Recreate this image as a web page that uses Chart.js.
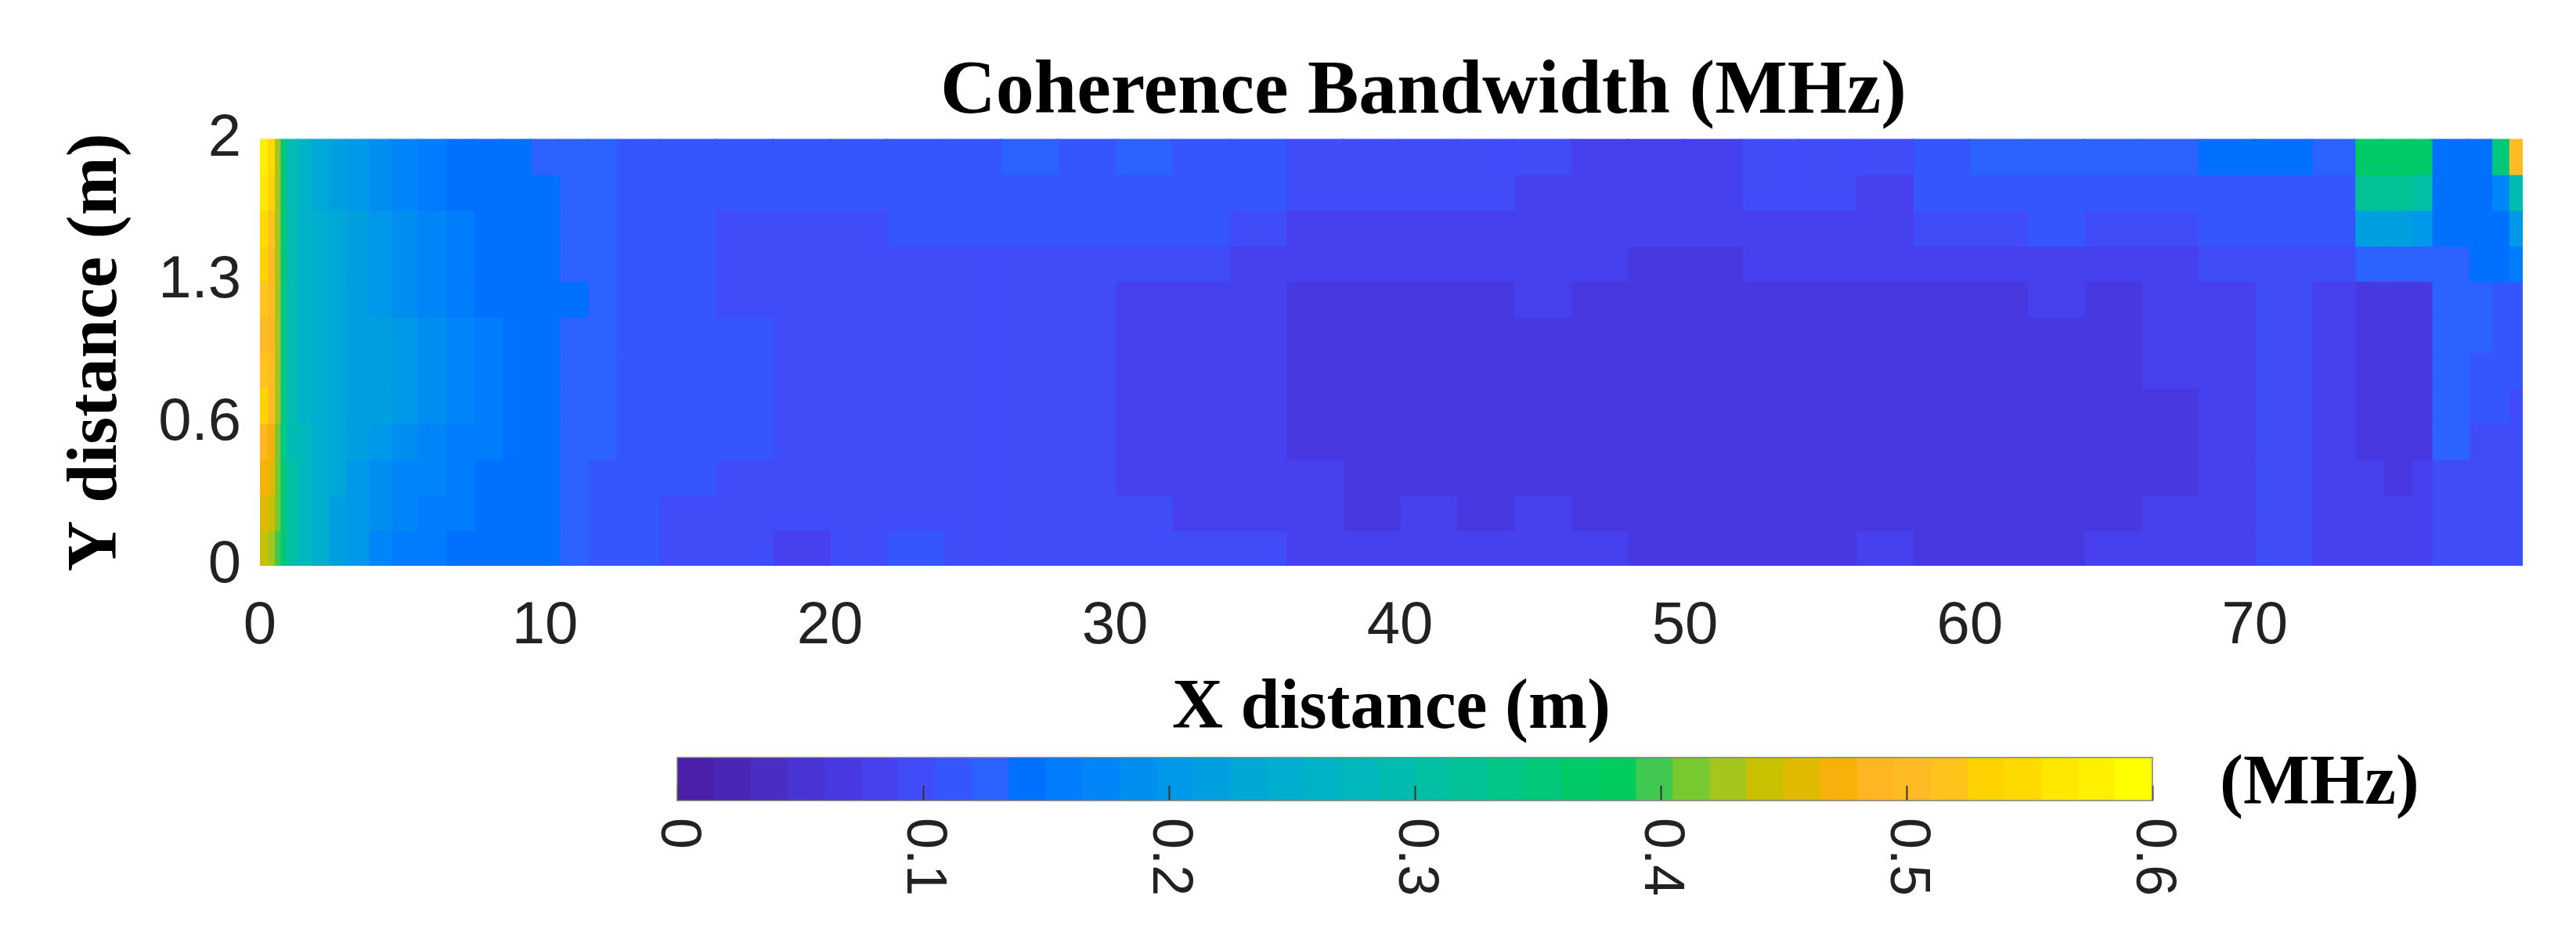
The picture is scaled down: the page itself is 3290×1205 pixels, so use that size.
<!DOCTYPE html>
<html>
<head>
<meta charset="utf-8">
<title>Coherence Bandwidth</title>
<script src="https://cdn.jsdelivr.net/npm/chart.js@4/dist/chart.umd.min.js"></script>
<style>
  html, body { margin: 0; padding: 0; background: #fff; }
  #wrap { position: relative; width: 3290px; height: 1205px; }
  canvas { position: absolute; left: 0; top: 0; }
</style>
</head>
<body>
<div id="wrap">
  <canvas id="field" width="3290" height="1205"></canvas>
  <canvas id="cbar" width="3290" height="1205"></canvas>
</div>
<script>
// Labels
const TITLE = 'Coherence Bandwidth (MHz)';
const X_LABEL = 'X distance (m)';
const Y_LABEL = 'Y distance (m)';
const CBAR_UNIT = '(MHz)';
const xTicks = [0, 10, 20, 30, 40, 50, 60, 70];
const yTickValues = [0, 0.6667, 1.3333, 2];
const yTickLabels = ['0', '0.6', '1.3', '2'];
const cbarTicks = [0, 0.1, 0.2, 0.3, 0.4, 0.5, 0.6];

// Column edges along X (m), finer where the field changes quickly
const xEdges = [0, 0.25, 0.5, 0.7, 0.9, 1.3, 1.8, 2.4, 3, 3.8, 4.6, 5.5, 6.5, 7.5, 8.5, 9.5, 10.5, 11.5, 12.5, 14,
  16, 18, 20, 22, 24, 26, 28, 30, 32, 34, 36, 38, 40, 42, 44, 46, 48, 50, 52, 54, 56, 58, 60, 62, 64, 66, 68, 70, 72,
  73.5, 74.5, 75.5, 76.2, 77.5, 78.3, 78.9, 79.4];

// Row centres along Y (m), bottom to top
const yRows = [0.083, 0.25, 0.417, 0.583, 0.75, 0.917, 1.083, 1.25, 1.417, 1.583, 1.75, 1.917];

// Coherence bandwidth (MHz), one list per row
const z0 = [.44,.43,.4,.35,.31,.28,.25,.22,.2,.17,.16,.16,.14,.14,.14,.14,.13,.11,.11,
  .1,.1,.08,.1,.11,.1,.1,.1,.1,.1,.1,.08,.08,.08,.08,.08,.08,.07,.07,.07,.07,.08,.07,.07,.07,.08,.08,.08,.1,.08,
  .08,.08,.08,.1,.1,.1,.1];
const z1 = [.46,.44,.41,.35,.31,.28,.25,.22,.2,.19,.17,.16,.16,.14,.14,.14,.13,.11,.11,
  .1,.1,.1,.1,.1,.1,.1,.1,.1,.08,.08,.08,.07,.08,.07,.08,.07,.07,.07,.07,.07,.07,.07,.07,.07,.07,.08,.08,.1,.08,
  .08,.08,.08,.1,.1,.1,.1];
const z2 = [.47,.46,.41,.35,.31,.28,.25,.23,.2,.19,.17,.17,.16,.14,.14,.14,.13,.11,.11,
  .11,.1,.1,.1,.1,.1,.1,.1,.08,.08,.08,.08,.07,.07,.07,.07,.07,.07,.07,.07,.07,.07,.07,.07,.07,.07,.07,.08,.1,.08,
  .08,.07,.08,.1,.1,.1,.1];
const z3 = [.49,.47,.41,.34,.29,.28,.25,.23,.22,.2,.19,.17,.16,.16,.14,.14,.13,.13,.11,
  .11,.11,.1,.1,.1,.1,.1,.1,.08,.08,.08,.07,.07,.07,.07,.07,.07,.07,.07,.07,.07,.07,.07,.07,.07,.07,.07,.08,.1,.08,
  .07,.07,.07,.13,.1,.1,.1];
const z4 = [.53,.5,.43,.34,.29,.26,.25,.23,.22,.22,.2,.19,.17,.16,.14,.14,.13,.13,.11,
  .11,.11,.1,.1,.1,.1,.1,.1,.08,.08,.08,.07,.07,.07,.07,.07,.07,.07,.07,.07,.07,.07,.07,.07,.07,.07,.07,.08,.1,.08,
  .07,.07,.07,.13,.11,.11,.1];
const z5 = [.52,.5,.43,.34,.29,.26,.25,.23,.22,.22,.2,.19,.17,.16,.14,.14,.13,.13,.11,
  .11,.11,.1,.1,.1,.1,.1,.1,.08,.08,.08,.07,.07,.07,.07,.07,.07,.07,.07,.07,.07,.07,.07,.07,.07,.07,.08,.08,.1,.08,
  .07,.07,.07,.13,.11,.11,.11];
const z6 = [.5,.49,.43,.34,.29,.26,.25,.23,.22,.22,.2,.19,.17,.16,.14,.14,.13,.13,.11,
  .11,.11,.1,.1,.1,.1,.1,.1,.08,.08,.08,.07,.07,.07,.07,.07,.07,.07,.07,.07,.07,.07,.07,.07,.07,.07,.08,.08,.1,.08,
  .07,.07,.07,.13,.13,.11,.11];
const z7 = [.52,.5,.43,.34,.29,.26,.25,.23,.22,.2,.19,.17,.16,.14,.14,.14,.14,.13,.11,
  .11,.1,.1,.1,.1,.1,.1,.1,.08,.08,.08,.07,.07,.07,.07,.08,.07,.07,.07,.07,.07,.07,.07,.07,.08,.07,.08,.08,.1,.08,
  .07,.07,.07,.13,.13,.11,.11];
const z8 = [.53,.5,.43,.35,.29,.26,.25,.23,.22,.2,.19,.17,.16,.14,.14,.14,.13,.13,.11,
  .11,.1,.1,.1,.1,.1,.1,.1,.1,.1,.08,.08,.08,.08,.08,.08,.08,.07,.07,.08,.08,.08,.08,.08,.08,.08,.08,.1,.1,.1,
  .13,.13,.13,.13,.14,.14,.16];
const z9 = [.55,.52,.43,.35,.29,.26,.25,.23,.22,.2,.19,.17,.16,.14,.14,.14,.13,.13,.11,
  .11,.1,.1,.1,.11,.11,.11,.11,.11,.11,.1,.08,.08,.08,.08,.08,.08,.08,.08,.08,.08,.08,.1,.1,.11,.1,.1,.11,.11,.11,
  .22,.22,.2,.14,.14,.14,.2];
const z10 = [.56,.53,.43,.35,.29,.26,.23,.22,.2,.19,.17,.16,.14,.14,.14,.14,.13,.13,.11,
  .11,.11,.11,.11,.11,.11,.11,.11,.11,.11,.11,.1,.1,.1,.1,.08,.08,.08,.08,.1,.1,.08,.11,.11,.11,.11,.11,.11,.11,.11,
  .32,.32,.31,.14,.14,.17,.29];
const z11 = [.58,.55,.43,.35,.29,.26,.23,.22,.2,.19,.17,.16,.14,.14,.14,.13,.13,.13,.11,
  .11,.11,.11,.11,.11,.11,.13,.11,.13,.11,.11,.1,.1,.1,.1,.1,.08,.08,.08,.1,.1,.1,.11,.13,.13,.13,.13,.14,.14,.13,
  .37,.37,.37,.14,.14,.35,.5];
const zRows = [z0, z1, z2, z3, z4, z5, z6, z7, z8, z9, z10, z11];

// Colour bar steps, 0.015 MHz each
const CBAR_STEP = 0.015;
const cbarColors = [
  '#4a1fa9', '#4b25b4', '#4a2dc4', '#4a33d3', '#4838e0', '#4640ee', '#404cf8', '#3656fd',
  '#2c62ff', '#0070ff', '#007dfd', '#0086f8', '#008ff0', '#0098e8', '#00a0e0', '#00a8d8',
  '#00aed0', '#00b3c6', '#00b8bb', '#00bcb0', '#00bfa2', '#00c294', '#00c686', '#00c878',
  '#00ca68', '#00cc5c', '#40c850', '#78c830', '#a4c41e', '#c8c000', '#e0ba00', '#f8b00a',
  '#ffb621', '#ffbb24', '#ffc41c', '#ffd200', '#ffda00', '#ffe800', '#fff000', '#ffff00',
];

const colorFor = v => cbarColors[Math.min(cbarColors.length - 1, Math.floor(v / CBAR_STEP))];

const TEXT_COLOR = '#222';
const TICK_FONT = { family: '"Liberation Sans"', size: 76 };
const LABEL_FONT = { family: '"Liberation Serif"', size: 90, weight: 'bold', lineHeight: 1.2 };

// One floating-bar dataset per column, one bar per row
const fieldDatasets = xEdges.slice(0, -1).map((x0, col) => ({
  data: yRows.map(y => ({ x: [x0, xEdges[col + 1]], y })),
  backgroundColor: zRows.map(row => colorFor(row[col])),
  borderWidth: 0,
  inflateAmount: 1,
  grouped: false,
  barPercentage: 1,
  categoryPercentage: 1,
}));

// The title sits a little right of the plot centre in the original
const titleShift = {
  id: 'titleShift',
  afterLayout(chart) {
    chart.titleBlock.left += 41;
    chart.titleBlock.right += 41;
  },
};

new Chart(document.getElementById('field'), {
  type: 'bar',
  data: { datasets: fieldDatasets },
  plugins: [titleShift],
  options: {
    indexAxis: 'y',
    responsive: false,
    devicePixelRatio: 1,
    animation: false,
    layout: { padding: { right: 68 } },
    plugins: {
      legend: { display: false },
      tooltip: { enabled: false },
      title: {
        display: true,
        text: TITLE,
        color: '#000',
        fullSize: false,
        font: { family: '"Liberation Serif"', size: 98, weight: 'bold', lineHeight: 1.2 },
        padding: { top: 60, bottom: 0 },
      },
    },
    scales: {
      x: {
        type: 'linear',
        min: 0,
        max: 79.4,
        grid: { display: false },
        border: { display: false },
        afterFit: s => { s.height = 482; },
        afterBuildTicks: s => { s.ticks = xTicks.map(value => ({ value })); },
        ticks: { color: TEXT_COLOR, font: TICK_FONT, padding: 24, maxRotation: 0, autoSkip: false },
        title: { display: true, text: X_LABEL, color: '#000', font: LABEL_FONT, padding: { top: 0, bottom: 244 } },
      },
      y: {
        type: 'linear',
        min: 0,
        max: 2,
        offset: false,
        grid: { display: false, offset: false },
        border: { display: false },
        afterFit: s => { s.width = 332; },
        afterBuildTicks: s => { s.ticks = yTickValues.map(value => ({ value })); },
        ticks: {
          color: TEXT_COLOR,
          font: TICK_FONT,
          padding: 16,
          autoSkip: false,
          callback: (v, i) => yTickLabels[i],
        },
        title: { display: true, text: Y_LABEL, color: '#000', font: LABEL_FONT, padding: { top: 71, bottom: 0 } },
      },
    },
  },
});

// Colour bar tick labels read downwards, which the axis cannot do on its own
const cbarText = {
  id: 'cbarText',
  afterDraw(chart) {
    const { ctx, chartArea, scales } = chart;
    ctx.save();
    ctx.strokeStyle = 'rgba(120,120,120,0.7)';
    ctx.lineWidth = 2;
    ctx.strokeRect(chartArea.left, chartArea.top, chartArea.width, chartArea.height);
    ctx.fillStyle = TEXT_COLOR;
    ctx.font = '72px "Liberation Sans"';
    ctx.textAlign = 'left';
    ctx.textBaseline = 'middle';
    cbarTicks.forEach(v => {
      ctx.save();
      ctx.translate(scales.x.getPixelForValue(v), 1045);
      ctx.rotate(Math.PI / 2);
      ctx.fillText(String(v), 0, 0);
      ctx.restore();
    });
    ctx.fillStyle = '#000';
    ctx.font = 'bold 90px "Liberation Serif"';
    ctx.textBaseline = 'alphabetic';
    ctx.fillText(CBAR_UNIT, 2835, 1027);
    ctx.restore();
  },
};

new Chart(document.getElementById('cbar'), {
  type: 'bar',
  data: {
    datasets: [{
      data: cbarColors.map((c, i) => ({ x: (i + 0.5) * CBAR_STEP, y: 1 })),
      backgroundColor: cbarColors,
      borderWidth: 0,
      inflateAmount: 0.5,
      barPercentage: 1,
      categoryPercentage: 1,
    }],
  },
  plugins: [cbarText],
  options: {
    responsive: false,
    devicePixelRatio: 1,
    animation: false,
    layout: { padding: { left: 865, right: 541, top: 968 } },
    plugins: { legend: { display: false }, tooltip: { enabled: false } },
    scales: {
      x: {
        type: 'linear',
        min: 0,
        max: 0.6,
        offset: false,
        grid: { z: 1, offset: false, drawOnChartArea: false, tickLength: -19, tickColor: '#333', tickWidth: 2 },
        border: { display: false },
        afterFit: s => { s.height = 182; },
        afterBuildTicks: s => { s.ticks = cbarTicks.map(value => ({ value })); },
        ticks: { display: false },
      },
      y: { display: false, min: 0, max: 1 },
    },
  },
});
</script>
</body>
</html>
